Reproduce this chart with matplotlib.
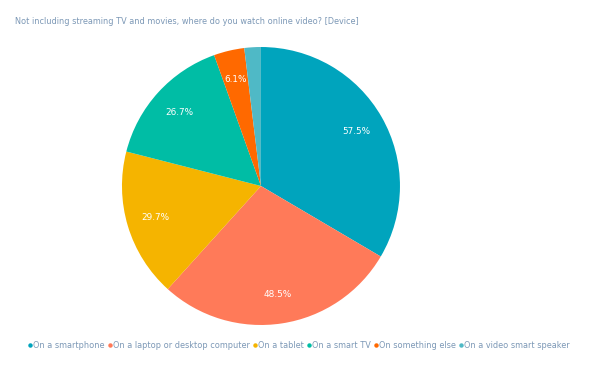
import matplotlib
matplotlib.use("Agg")
import matplotlib.pyplot as plt
import numpy as np

title = "Not including streaming TV and movies, where do you watch online video? [Device]"
categories = ["On a smartphone", "On a laptop or desktop computer", "On a tablet",
              "On a smart TV", "On something else", "On a video smart speaker"]
values = [57.5, 48.5, 29.7, 26.7, 6.1, 3.3]
show_label = [True, True, True, True, True, False]
colors = ["#00a4bd", "#ff7a59", "#f5b400", "#00bda5", "#ff6900", "#4fb9c6"]
text_color = "#7c98b6"

fig = plt.figure(figsize=(6, 3.7), dpi=100)
ax = fig.add_axes([0.2033, 0.1216, 0.4633, 0.7514])
wedges, _ = ax.pie(values, colors=colors, startangle=90, counterclock=False,
                   radius=1, wedgeprops=dict(linewidth=0))
ax.set_xlim(-1, 1)
ax.set_ylim(-1, 1)
ax.set_aspect("equal")
ax.axis("off")

for w, v, show in zip(wedges, values, show_label):
    if not show:
        continue
    ang = np.deg2rad((w.theta1 + w.theta2) / 2)
    r = 0.79
    ax.text(r * np.cos(ang), r * np.sin(ang), f"{v}%", ha="center", va="center",
            color="white", fontsize=6.4)

fig.text(15 / 600, 1 - 22 / 370, title, ha="left", va="center", color=text_color, fontsize=5.9)

handles = [plt.Line2D([], [], marker="o", linestyle="", markersize=2.2, color=c) for c in colors]
leg = fig.legend(handles, categories, loc="center", bbox_to_anchor=(299 / 600, 1 - 345 / 370),
                 ncol=6, frameon=False, fontsize=5.9, handlelength=0.4, handletextpad=0.15,
                 columnspacing=0.45, borderpad=0)
for t in leg.get_texts():
    t.set_color(text_color)

fig.savefig("out.png", dpi=100)
